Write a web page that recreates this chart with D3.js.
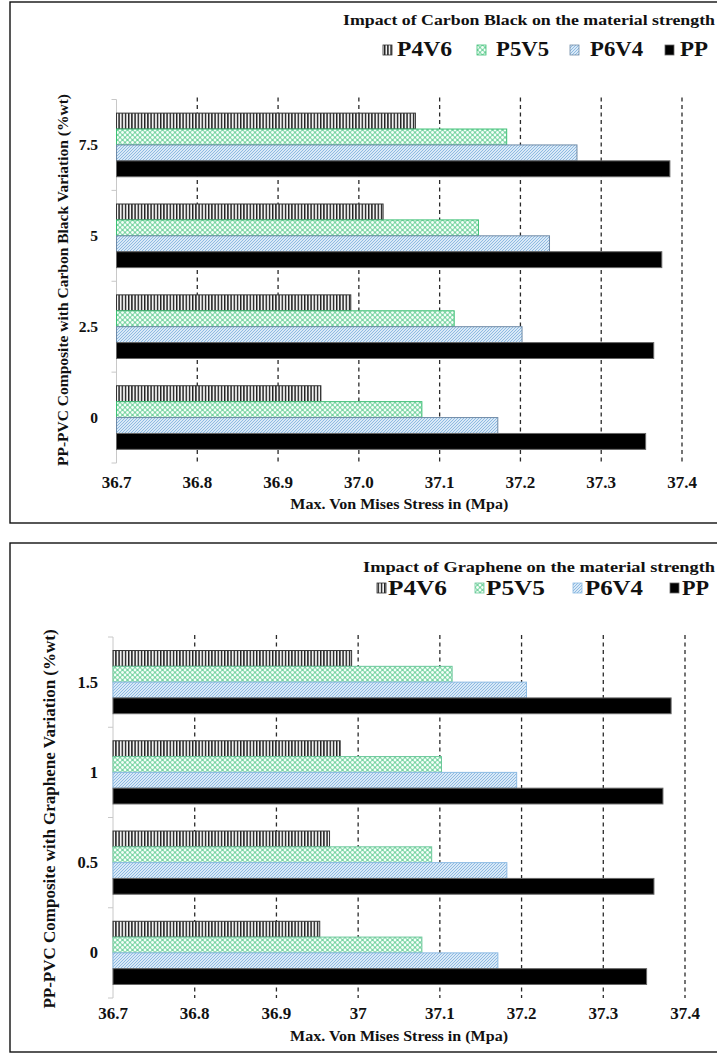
<!DOCTYPE html>
<html><head><meta charset="utf-8">
<script src="https://cdn.jsdelivr.net/npm/d3@7"></script>
<style>
body{margin:0;background:#fff;overflow:hidden}
svg{display:block}
text{font-family:"Liberation Serif","Times New Roman",serif;font-weight:bold;fill:#111}
</style>
</head><body>
<svg id="c" width="717" height="1054"></svg>
<script>
// ---------- DATA ----------
const series = ["P4V6", "P5V5", "P6V4", "PP"];

const cbCategories = ["0", "2.5", "5", "7.5"];
const cbP4V6 = [36.953, 36.990, 37.030, 37.070];
const cbP5V5 = [37.078, 37.118, 37.148, 37.183];
const cbP6V4 = [37.172, 37.202, 37.236, 37.270];
const cbPP   = [37.355, 37.365, 37.375, 37.385];

const grCategories = ["0", "0.5", "1", "1.5"];
const grP4V6 = [36.953, 36.965, 36.978, 36.992];
const grP5V5 = [37.078, 37.090, 37.102, 37.115];
const grP6V4 = [37.171, 37.182, 37.194, 37.206];
const grPP   = [37.353, 37.362, 37.373, 37.383];

const xTicks = [36.7, 36.8, 36.9, 37.0, 37.1, 37.2, 37.3, 37.4];
const cbTickLabels = ["36.7", "36.8", "36.9", "37.0", "37.1", "37.2", "37.3", "37.4"];
const grTickLabels = ["36.7", "36.8", "36.9", "37", "37.1", "37.2", "37.3", "37.4"];

const cbTitle = "Impact of Carbon Black on the material strength";
const grTitle = "Impact of Graphene on the material strength";
const cbYTitle = "PP-PVC Composite with Carbon Black Variation  (%wt)";
const grYTitle = "PP-PVC Composite with Graphene Variation  (%wt)";
const xTitle = "Max. Von Mises Stress in (Mpa)";

// ---------- DRAWING ----------
const svg = d3.select("#c");
const defs = svg.append("defs");

(function () {
  const v = defs.append("pattern").attr("id", "pVert").attr("patternUnits", "userSpaceOnUse")
    .attr("width", 3.2).attr("height", 10);
  v.append("rect").attr("width", 3.2).attr("height", 10).attr("fill", "#f2f2f2");
  v.append("rect").attr("width", 1.4).attr("height", 10).attr("fill", "#1c1c1c");

  const c = defs.append("pattern").attr("id", "pCross").attr("patternUnits", "userSpaceOnUse")
    .attr("width", 5).attr("height", 5);
  c.append("rect").attr("width", 5).attr("height", 5).attr("fill", "#79d4a3");
  c.append("circle").attr("cx", 2.5).attr("cy", 2.5).attr("r", 1.4).attr("fill", "#f4fff8");
  [[0,0],[5,0],[0,5],[5,5]].forEach(p => c.append("circle").attr("cx", p[0]).attr("cy", p[1]).attr("r", 1.4).attr("fill", "#f4fff8"));

  const d = defs.append("pattern").attr("id", "pDiag").attr("patternUnits", "userSpaceOnUse")
    .attr("width", 3).attr("height", 3);
  d.append("rect").attr("width", 3).attr("height", 3).attr("fill", "#d9e9f7");
  d.append("path").attr("d", "M0,3L3,0M-1,1L1,-1M2,4L4,2").attr("stroke", "#86b4df").attr("stroke-width", 0.9);
})();

const fills = { P4V6: "url(#pVert)", P5V5: "url(#pCross)", P6V4: "url(#pDiag)", PP: "#000" };

function txt(g, x, y, s, size, o = {}) {
  let tr = `translate(${x},${y})`;
  if (o.rot) tr += " rotate(-90)";
  if (o.sx) tr += ` scale(${o.sx},1)`;
  const t = g.append("text").attr("transform", tr).attr("font-size", size)
    .attr("text-anchor", o.anchor || "start").attr("dominant-baseline", o.base || "auto").text(s);
  if (o.len) t.attr("textLength", o.len).attr("lengthAdjust", "spacingAndGlyphs");
  return t;
}

function drawPanel(cfg) {
  const g = svg.append("g");
  g.append("rect").attr("x", cfg.box[0]).attr("y", cfg.box[1]).attr("width", cfg.box[2]).attr("height", cfg.box[3])
    .attr("fill", "none").attr("stroke", "#111").attr("stroke-width", 1.4);

  const x = d3.scaleLinear().domain([36.7, 37.4]).range([cfg.plot.x0, cfg.plot.x1]);
  const y = d3.scaleBand().domain(cfg.categories.slice().reverse()).range([cfg.plot.y0, cfg.plot.y1])
    .paddingInner(0.3).paddingOuter(0.15);
  const ys = d3.scaleBand().domain(series).range([0, y.bandwidth()]);

  // gridlines
  g.append("g").selectAll("line").data(xTicks.slice(1)).join("line")
    .attr("x1", d => x(d)).attr("x2", d => x(d))
    .attr("y1", cfg.plot.y0 - 2).attr("y2", cfg.plot.y1)
    .attr("stroke", "#2a2a2a").attr("stroke-width", 1.3).attr("stroke-dasharray", "4,3.5");

  // left axis
  const yb = [cfg.plot.y0];
  cfg.categories.slice().reverse().forEach(c => yb.push(y(c) + y.bandwidth() + y.step() * 0.15));
  g.append("line").attr("x1", x(36.7)).attr("x2", x(36.7)).attr("y1", cfg.plot.y0).attr("y2", cfg.plot.y1)
    .attr("stroke", "#c8c8c8").attr("stroke-width", 1);
  g.append("g").selectAll("line").data(yb).join("line")
    .attr("x1", x(36.7) - 5).attr("x2", x(36.7)).attr("y1", d => d).attr("y2", d => d)
    .attr("stroke", "#c8c8c8").attr("stroke-width", 1);

  // bars
  const rows = [];
  cfg.categories.forEach((c, i) => series.forEach(s => rows.push({ c, s, v: cfg.values[s][i] })));
  g.append("g").selectAll("rect").data(rows).join("rect")
    .attr("x", x(36.7)).attr("y", d => y(d.c) + ys(d.s))
    .attr("width", d => x(d.v) - x(36.7)).attr("height", ys.bandwidth())
    .attr("fill", d => fills[d.s]).attr("stroke", d => cfg.strokes[d.s]).attr("stroke-width", 1);

  // category labels
  cfg.categories.forEach(c => txt(g, cfg.catX, y(c) + y.bandwidth() / 2, c, cfg.catSize, { anchor: "end", base: "central" }));

  // tick labels
  xTicks.forEach((t, i) => txt(g, x(t), cfg.tickY, cfg.tickLabels[i], 17, { anchor: "middle" }));

  // axis titles
  txt(g, (x(36.7) + x(37.4)) / 2, cfg.xTitleY, xTitle, 15.5, { anchor: "middle", len: 218 });
  txt(g, cfg.yTitle.x, cfg.yTitle.y, cfg.yTitle.text, cfg.yTitle.size, { anchor: "middle", rot: true });

  // title + legend
  txt(g, cfg.title.x, cfg.title.y, cfg.title.text, 15.5, { len: cfg.title.len });
  series.forEach((s, i) => {
    const it = cfg.legend.items[i];
    g.append("rect").attr("x", it[0]).attr("y", cfg.legend.sy).attr("width", 9).attr("height", 10)
      .attr("fill", fills[s]).attr("stroke", cfg.strokes[s]).attr("stroke-width", 0.8);
    txt(g, it[1], cfg.legend.ty, s, cfg.legend.size, { len: it[2] });
  });
}

drawPanel({
  box: [10, 2, 730, 521],
  plot: { x0: 116.5, x1: 682, y0: 99.5, y1: 463 },
  categories: cbCategories,
  values: { P4V6: cbP4V6, P5V5: cbP5V5, P6V4: cbP6V4, PP: cbPP },
  strokes: { P4V6: "#333", P5V5: "#3dbf74", P6V4: "#6f8aa6", PP: "#666" },
  catX: 98, catSize: 15.5,
  tickLabels: cbTickLabels, tickY: 488, xTitleY: 509,
  yTitle: { x: 68, y: 280, text: cbYTitle, size: 15.5 },
  title: { x: 343, y: 25, text: cbTitle, len: 372 },
  legend: { sy: 45, ty: 56, size: 20.5, items: [[383, 397, 55], [477, 496, 53], [570, 590, 53], [665, 680, 28]] }
});

drawPanel({
  box: [10, 543, 730, 509],
  plot: { x0: 113, x1: 685, y0: 637, y1: 998 },
  categories: grCategories,
  values: { P4V6: grP4V6, P5V5: grP5V5, P6V4: grP6V4, PP: grPP },
  strokes: { P4V6: "#333", P5V5: "#6cc79a", P6V4: "#8dbbe3", PP: "#666" },
  catX: 98, catSize: 16.5,
  tickLabels: grTickLabels, tickY: 1019, xTitleY: 1041,
  yTitle: { x: 55, y: 819, text: grYTitle, size: 17 },
  title: { x: 363, y: 572, text: grTitle, len: 352 },
  legend: { sy: 583, ty: 595, size: 21, items: [[377, 388, 59], [475, 486, 59], [573, 585, 58], [670, 682, 27]] }
});
</script>
</body></html>
